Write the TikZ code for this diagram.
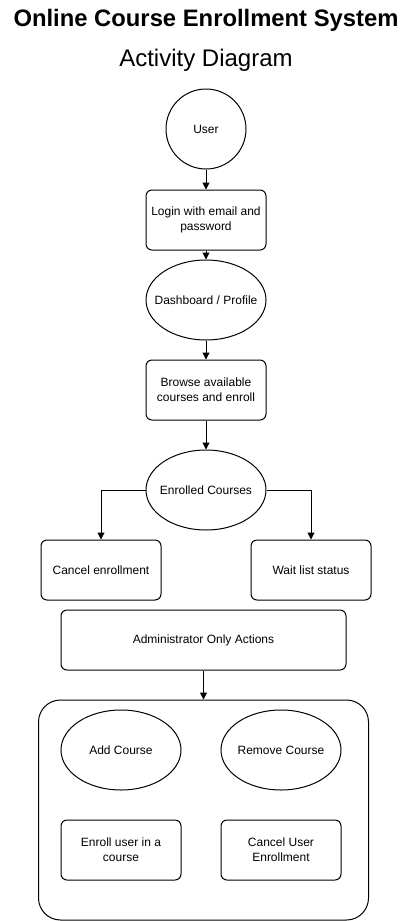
\documentclass[tikz,border=0pt]{standalone}
\usepackage{fontspec}
\setmainfont{Liberation Sans}
\usetikzlibrary{shapes.geometric,arrows.meta}
\begin{document}
\begin{tikzpicture}[x=1pt,y=-1pt,
  txt/.style={font=\fontsize{12}{15}\selectfont, align=center, text=black},
  stepbox/.style={txt, draw, line width=1pt, rounded corners=6pt, minimum width=120pt, minimum height=60pt, inner sep=0pt},
  oval/.style={txt, draw, ellipse, line width=1pt, minimum width=120pt, minimum height=80pt, inner xsep=-20pt, inner ysep=0pt},
  startcirc/.style={txt, draw, circle, line width=1pt, minimum size=80pt, inner sep=0pt},
  arr/.style={-{Triangle[length=7pt,width=7pt]}, line width=1pt}]
\useasboundingbox (0,0) rectangle (411,921);
\node[font=\fontsize{23.8}{26}\selectfont\bfseries] (title) at (206,20) {Online Course Enrollment System};
\node[font=\fontsize{24}{26}\selectfont] (subtitle) at (206,60) {Activity Diagram};

\node[startcirc] (user) at (206,129) {User};
\node[stepbox] (login) at (206,220) {Login with email and\\password};
\node[oval] (dash) at (206,300) {Dashboard / Profile};
\node[stepbox] (browse) at (206,390) {Browse available\\courses and enroll};
\node[oval] (enrolled) at (206,490) {Enrolled Courses};
\node[stepbox] (cancel) at (101,570) {Cancel enrollment};
\node[stepbox] (wait) at (311,570) {Wait list status};
\node[stepbox, minimum width=285pt] (admin) at (203.5,640) {Administrator Only Actions};
\node[draw, line width=1pt, rounded corners=22pt, minimum width=330pt, minimum height=220pt, inner sep=0pt] (group) at (203.5,810) {};
\node[oval] (add) at (121,750) {Add Course};
\node[oval] (remove) at (281,750) {Remove Course};
\node[stepbox] (enroll) at (121,850) {Enroll user in a\\course};
\node[stepbox] (canceluser) at (281,850) {Cancel User\\Enrollment};

\draw[arr] (user) -- (login);
\draw[arr] (login) -- (dash);
\draw[arr] (dash) -- (browse);
\draw[arr] (browse) -- (enrolled);
\draw[arr] (enrolled.west) -| (cancel.north);
\draw[arr] (enrolled.east) -| (wait.north);
\draw[arr] (admin.south) -- (group.north);
\end{tikzpicture}
\end{document}
